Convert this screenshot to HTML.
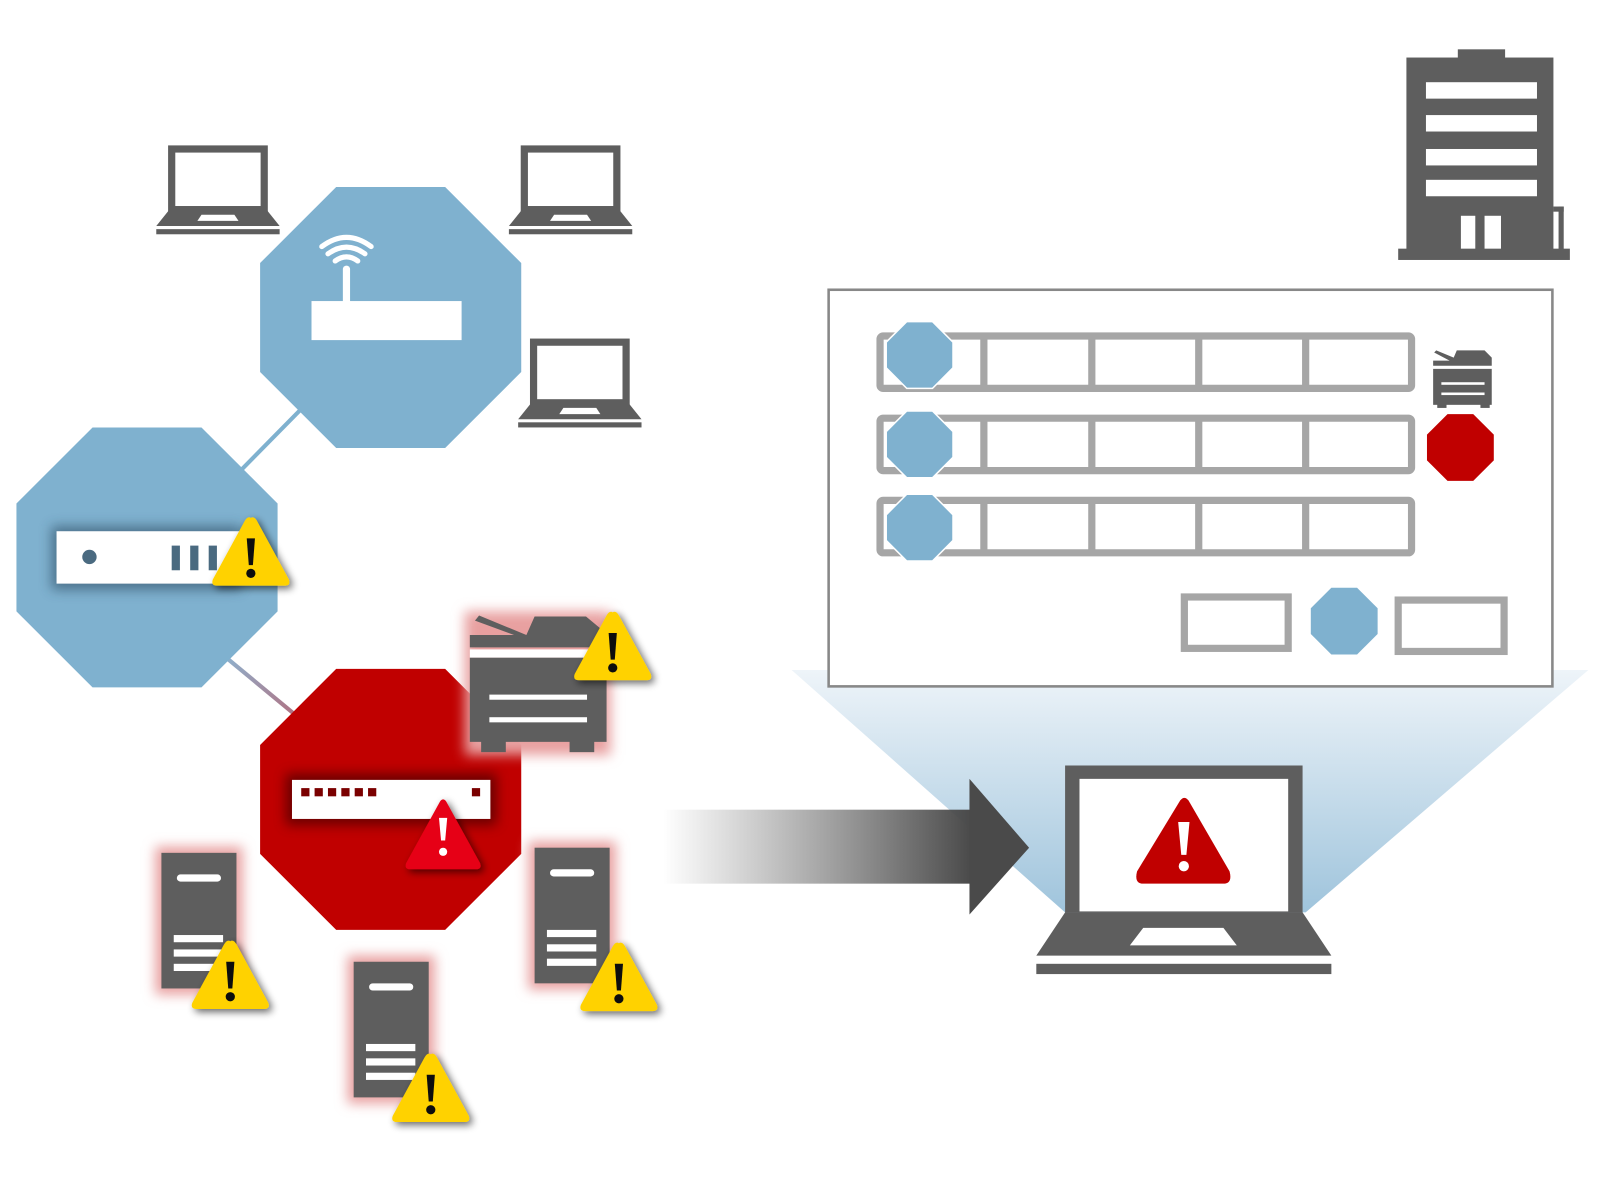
<!DOCTYPE html>
<html><head><meta charset="utf-8"><style>html,body{margin:0;padding:0;background:#fff}svg{display:block}</style></head>
<body>
<svg width="1611" height="1195" viewBox="0 0 1567 1163" preserveAspectRatio="none" xmlns="http://www.w3.org/2000/svg">
<defs>
<filter id="sh" x="-30%" y="-30%" width="160%" height="160%"><feGaussianBlur in="SourceAlpha" stdDeviation="4"/><feOffset dx="3" dy="3"/><feComponentTransfer><feFuncA type="linear" slope="0.6"/></feComponentTransfer><feMerge><feMergeNode/><feMergeNode in="SourceGraphic"/></feMerge></filter>
<filter id="glow" x="-30%" y="-30%" width="160%" height="160%"><feGaussianBlur stdDeviation="6"/></filter>
<linearGradient id="arr" x1="0" x2="1"><stop offset="0" stop-color="#5a5a5a" stop-opacity="0"/><stop offset="1" stop-color="#4a4a4a"/></linearGradient>
<linearGradient id="cone" x1="0" y1="0" x2="0" y2="1"><stop offset="0" stop-color="#eef4f9"/><stop offset="1" stop-color="#9fc4dc"/></linearGradient>
<linearGradient id="ln" x1="0" y1="0" x2="1" y2="1"><stop offset="0" stop-color="#8fb0cc"/><stop offset="1" stop-color="#b07080"/></linearGradient>
<g id="lap">
<rect x="15" y="3" width="90" height="59" fill="#fff" stroke="#5e5e5e" stroke-width="7"/>
<polygon points="12,63 108,63 120,78 0,78" fill="#5e5e5e"/>
<polygon points="44,67 76,67 80,73 40,73" fill="#fff"/>
<rect x="0" y="81" width="120" height="5" fill="#5e5e5e"/>
</g>
<g id="warn" filter="url(#sh)">
<path d="M39,2 Q42,0 45,5 L76,62 Q78,68 72,68 L6,68 Q0,68 2,62 L33,5 Q36,0 39,2Z" fill="#ffd200"/>
<path d="M35,22 L43,22 L41,48 L37,48Z" fill="#111"/><circle cx="39" cy="56" r="4.5" fill="#111"/>
</g>
<g id="server">
<rect x="-6" y="-6" width="85" height="144" fill="#e8a0a0" filter="url(#glow)"/>
<rect x="0" y="0" width="73" height="132" fill="#5e5e5e"/>
<rect x="15" y="21" width="43" height="7" rx="3.5" fill="#fff"/>
<rect x="12" y="80" width="48" height="7" fill="#fff"/><rect x="12" y="94" width="48" height="7" fill="#fff"/><rect x="12" y="108" width="48" height="7" fill="#fff"/>
</g>
<polygon id="oct" points="20,0 45,0 65,20 65,45 45,65 20,65 0,45 0,20"/>
</defs>

<line x1="232" y1="460" x2="295" y2="396" stroke="#7fb1cf" stroke-width="4"/>
<line x1="220" y1="640" x2="290" y2="698" stroke="url(#ln)" stroke-width="4"/>

<use href="#lap" x="152" y="142"/>
<use href="#lap" x="495" y="142"/>
<use href="#lap" x="504" y="330"/>

<polygon points="327,182 433,182 507,256 507,362 433,436 327,436 253,362 253,256" fill="#7fb1cf"/>
<rect x="303" y="293" width="146" height="38" fill="#fff"/>
<line x1="337" y1="262" x2="337" y2="295" stroke="#fff" stroke-width="7" stroke-linecap="round"/>
<g fill="none" stroke="#fff" stroke-width="5" stroke-linecap="round">
<path d="M313,240 Q337,222 361,240"/><path d="M319,247 Q337,234 355,247"/><path d="M326,254 Q337,246 348,254"/>
</g>

<polygon points="90,416 196,416 270,490 270,595 196,669 90,669 16,595 16,490" fill="#7fb1cf"/>
<rect x="50" y="512" width="185" height="62" fill="#2a4a60" opacity="0.6" filter="url(#glow)"/>
<rect x="55" y="517" width="180" height="51" fill="#fff"/>
<circle cx="87" cy="542" r="7" fill="#4a6a80"/>
<rect x="167" y="531" width="8" height="24" fill="#4a6a80"/><rect x="185" y="531" width="8" height="24" fill="#4a6a80"/><rect x="203" y="531" width="8" height="24" fill="#4a6a80"/>
<use href="#warn" x="205" y="502"/>

<polygon points="327,651 433,651 507,725 507,831 433,905 327,905 253,831 253,725" fill="#c00000"/>
<rect x="278" y="753" width="205" height="50" fill="#500" opacity="0.8" filter="url(#glow)"/>
<rect x="284" y="759" width="193" height="38" fill="#fff"/>
<g fill="#7a0000"><rect x="293" y="767" width="8" height="8"/><rect x="306" y="767" width="8" height="8"/><rect x="319" y="767" width="8" height="8"/><rect x="332" y="767" width="8" height="8"/><rect x="345" y="767" width="8" height="8"/><rect x="358" y="767" width="8" height="8"/><rect x="459" y="767" width="8" height="8"/></g>
<g filter="url(#sh)"><path d="M428,780 Q431,776 434,780 L467,840 Q469,846 463,846 L399,846 Q393,846 395,840Z" fill="#e60012"/>
<path d="M427,796 L435,796 L433,818 L429,818Z" fill="#fff"/><circle cx="431" cy="829" r="4" fill="#fff"/></g>

<rect x="452" y="595" width="142" height="140" fill="#e8a0a0" filter="url(#glow)"/>
<g fill="#5e5e5e">
<polygon points="462,604 466,599 512,618 520,600 570,600 588,615 588,630 457,630 457,618 500,618"/>
<rect x="457" y="640" width="133" height="82"/>
<rect x="468" y="720" width="24" height="12"/><rect x="554" y="720" width="24" height="12"/>
</g>
<rect x="457" y="632" width="133" height="8" fill="#fff"/>
<rect x="476" y="676" width="95" height="5" fill="#fff"/><rect x="476" y="698" width="95" height="5" fill="#fff"/>
<use href="#warn" x="557" y="594"/>

<use href="#server" x="157" y="830"/>
<use href="#warn" x="185" y="914"/>
<use href="#server" x="344" y="936"/>
<use href="#warn" x="380" y="1024"/>
<use href="#server" x="520" y="825"/>
<use href="#warn" x="563" y="916"/>

<polygon points="770,652 1545,652 1270,888 1036,888" fill="url(#cone)"/>

<rect x="645" y="788" width="300" height="72" fill="url(#arr)"/>
<polygon points="943,758 1001,825 943,890" fill="#4a4a4a"/>

<rect x="806" y="282" width="704" height="386" fill="#fff" stroke="#888" stroke-width="2.5"/>
<g fill="none" stroke="#a6a6a6" stroke-width="7">
<rect x="856" y="327" width="517" height="51" rx="3"/><rect x="856" y="407" width="517" height="51" rx="3"/><rect x="856" y="487" width="517" height="51" rx="3"/>
<line x1="957" y1="327" x2="957" y2="378"/><line x1="1062" y1="327" x2="1062" y2="378"/><line x1="1166" y1="327" x2="1166" y2="378"/><line x1="1270" y1="327" x2="1270" y2="378"/>
<line x1="957" y1="407" x2="957" y2="458"/><line x1="1062" y1="407" x2="1062" y2="458"/><line x1="1166" y1="407" x2="1166" y2="458"/><line x1="1270" y1="407" x2="1270" y2="458"/>
<line x1="957" y1="487" x2="957" y2="538"/><line x1="1062" y1="487" x2="1062" y2="538"/><line x1="1166" y1="487" x2="1166" y2="538"/><line x1="1270" y1="487" x2="1270" y2="538"/>
<rect x="1152" y="581" width="101" height="50"/><rect x="1360" y="584" width="103" height="50"/>
</g>
<use href="#oct" x="862" y="313" fill="#7fb1cf" stroke="#fff" stroke-width="1.5"/>
<use href="#oct" x="862" y="400" fill="#7fb1cf" stroke="#fff" stroke-width="1.5"/>
<use href="#oct" x="862" y="481" fill="#7fb1cf" stroke="#fff" stroke-width="1.5"/>
<use href="#oct" x="1275" y="572" fill="#7fb1cf"/>
<use href="#oct" x="1388" y="403" fill="#c00000"/>
<g fill="#5e5e5e">
<polygon points="1395,343 1397,341 1414,348 1417,341 1444,341 1451,348 1451,356 1394,356 1394,351 1410,351"/>
<rect x="1394" y="359" width="57" height="35"/><rect x="1398" y="392" width="9" height="5"/><rect x="1440" y="392" width="9" height="5"/>
</g>
<rect x="1402" y="372" width="42" height="2.5" fill="#fff"/><rect x="1402" y="382" width="42" height="2.5" fill="#fff"/>

<g fill="#5e5e5e">
<rect x="1418" y="48" width="46" height="10"/>
<rect x="1368" y="56" width="143" height="188"/>
<rect x="1360" y="242" width="167" height="11"/>
<rect x="1511" y="201" width="10" height="5"/><rect x="1516" y="201" width="5" height="42"/>
</g>
<g fill="#fff"><rect x="1387" y="80" width="108" height="16"/><rect x="1387" y="112" width="108" height="16"/><rect x="1387" y="145" width="108" height="16"/><rect x="1387" y="175" width="108" height="16"/>
<rect x="1421" y="210" width="14" height="32"/><rect x="1444" y="210" width="16" height="32"/></g>

<rect x="1036" y="745" width="231" height="143" fill="#5e5e5e"/>
<rect x="1050" y="758" width="203" height="129" fill="#fff"/>
<polygon points="1036,888 1267,888 1295,930 1008,930" fill="#5e5e5e"/>
<polygon points="1112,903 1190,903 1203,920 1099,920" fill="#fff"/>
<rect x="1008" y="938" width="287" height="10" fill="#5e5e5e"/>
<path d="M1148,779 Q1152,774 1156,779 L1196,848 Q1199,860 1190,860 L1112,860 Q1103,860 1106,848Z" fill="#c00000"/>
<path d="M1146,800 L1157,800 L1154,832 L1149,832Z" fill="#fff"/><circle cx="1151.5" cy="843" r="5" fill="#fff"/>
</svg>
</body></html>
